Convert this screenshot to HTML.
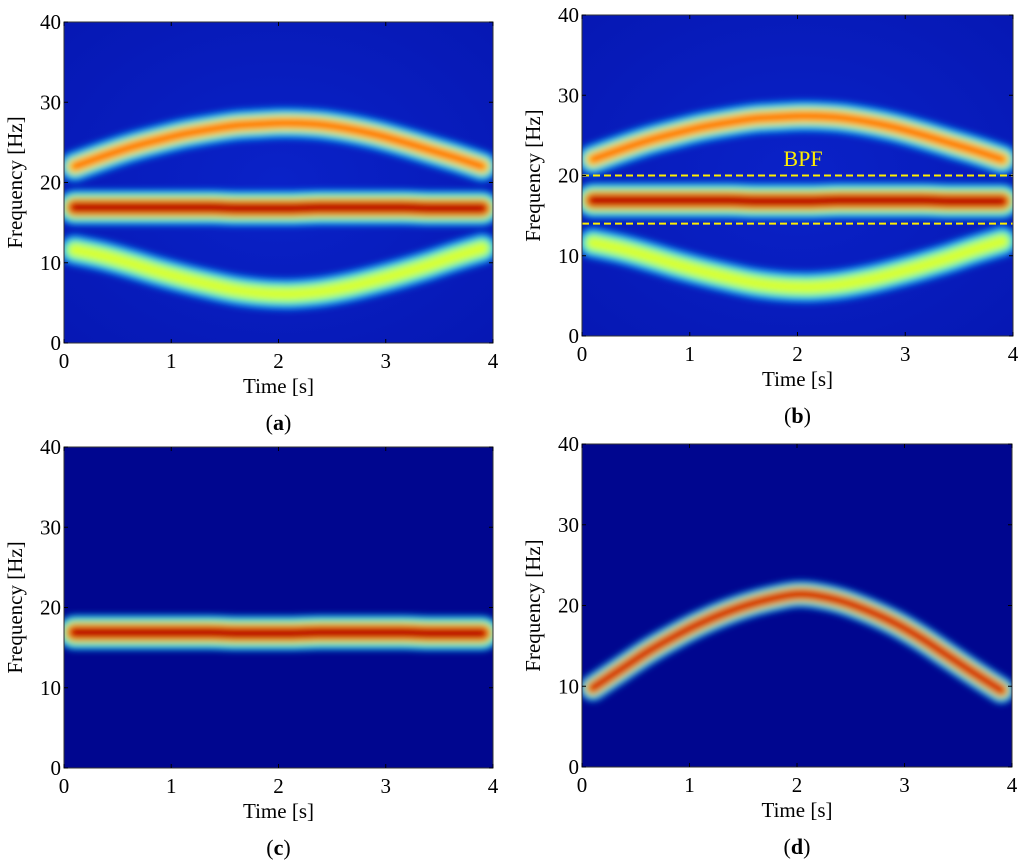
<!DOCTYPE html>
<html><head><meta charset="utf-8"><style>
body{margin:0;background:#fff;}
svg{display:block;}
text{font-family:"Liberation Serif","Times New Roman",serif;}
</style></head><body>
<svg id="fig" width="1024" height="867" viewBox="0 0 1024 867" xmlns="http://www.w3.org/2000/svg">
<defs>
<filter id="blur" filterUnits="userSpaceOnUse" x="0" y="0" width="1024" height="867"><feGaussianBlur stdDeviation="3.5"/></filter>
<radialGradient id="bgA" cx="50%" cy="50%" r="70%"><stop offset="0" stop-color="#0a22c8"/><stop offset="1" stop-color="#0618b4"/></radialGradient>
</defs>
</svg>
<script>
// shared axes data
const xTicks = [0,1,2,3,4];
const yTicks = [0,10,20,30,40];
const times = [0.1,0.35,0.6,0.85,1.1,1.35,1.6,1.85,2.0,2.15,2.4,2.65,2.9,3.15,3.4,3.65,3.9];
// ridge frequencies (Hz) at the times above
const upperRidge = [22,23.2,24.3,25.2,26,26.6,27.1,27.3,27.4,27.4,27.2,26.7,26,25.1,24.1,23.1,22];
const centerRidge = [16.9,16.9,16.9,16.9,16.9,16.9,16.8,16.8,16.8,16.8,16.9,16.9,16.9,16.9,16.8,16.8,16.8];
const lowerRidge = [11.6,10.9,10,9,8.1,7.3,6.6,6.2,6.1,6.1,6.4,7.0,7.8,8.7,9.7,10.8,11.8];
const chirpRidge = [9.8,12,14.2,16.1,17.8,19.2,20.3,21.1,21.4,21.3,20.6,19.4,17.9,16,13.8,11.6,9.5];
const bpfBand = [14,20];

const NS = "http://www.w3.org/2000/svg";
const svg = document.getElementById('fig');
function el(tag, attrs, parent){const e=document.createElementNS(NS,tag);for(const k in attrs)e.setAttribute(k,attrs[k]);(parent||svg).appendChild(e);return e;}
function smoothPath(P){
  let d='M'+P[0][0].toFixed(1)+','+P[0][1].toFixed(1);
  for(let i=0;i<P.length-1;i++){
    const p0=P[Math.max(0,i-1)],p1=P[i],p2=P[i+1],p3=P[Math.min(P.length-1,i+2)];
    const c1=[p1[0]+(p2[0]-p0[0])/6,p1[1]+(p2[1]-p0[1])/6];
    const c2=[p2[0]-(p3[0]-p1[0])/6,p2[1]-(p3[1]-p1[1])/6];
    d+=' C'+c1.map(v=>v.toFixed(1)).join(',')+' '+c2.map(v=>v.toFixed(1)).join(',')+' '+p2[0].toFixed(1)+','+p2[1].toFixed(1);
  }
  return d;
}

const panels = [
 {id:'a', x0:64, x1:493, y0:22, y1:343, bg:'url(#bgA)', ridges:[['upper',upperRidge,'hot'],['center',centerRidge,'max'],['lower',lowerRidge,'warm']], bpf:false},
 {id:'b', x0:582, x1:1013, y0:15, y1:336, bg:'url(#bgA)', ridges:[['upper',upperRidge,'hot'],['center',centerRidge,'max'],['lower',lowerRidge,'warm']], bpf:true},
 {id:'c', x0:64, x1:493, y0:447, y1:768, bg:'#00068f', ridges:[['center',centerRidge,'max']], bpf:false},
 {id:'d', x0:582, x1:1012, y0:444, y1:767, bg:'#00068f', ridges:[['chirp',chirpRidge,'chirp']], bpf:false}
];
const palettes = {
 hot:[[30,'#00b8ff',0.9],[22,'#40f0c0',1],[15,'#ffe000',1],[8,'#ff6000',1]],
 warm:[[30,'#00b8ff',0.9],[20,'#70ff90',1],[12,'#d8ff30',1]],
 max:[[34,'#00c8ff',1],[26,'#70ff80',1],[19,'#ffb000',1],[13,'#e00000',1],[6,'#a80000',1]],
 chirp:[[26,'#00b8ff',1],[19,'#70ff80',1],[14,'#ff9000',1],[8,'#cc0000',1]]
};

panels.forEach(p=>{
  const g = el('g',{});
  
  
  const xs = t => p.x0 + (t/4)*(p.x1-p.x0);
  const ys = f => p.y1 - (f/40)*(p.y1-p.y0);
  const clipId='clip'+p.id;
  const cp=el('clipPath',{id:clipId},g); el('rect',{x:p.x0,y:p.y0,width:p.x1-p.x0,height:p.y1-p.y0},cp);
  const plot=el('g',{'clip-path':'url(#'+clipId+')'},g);
  const bg=el('rect',{x:p.x0,y:p.y0,width:p.x1-p.x0,height:p.y1-p.y0,fill:p.bg},plot);
  
  
  p.ridges.forEach(r=>{
    const d = smoothPath(times.map((t,i)=>[xs(t),ys(r[1][i])]));
    const rg=el('g',{filter:'url(#blur)'},plot);
    
    
    palettes[r[2]].forEach(l=>{
      el('path',{d:d,fill:'none',stroke:l[1],'stroke-width':l[0],'stroke-opacity':l[2],'stroke-linecap':'round','stroke-linejoin':'round'},rg);
    });
  });
  if(p.bpf){
    bpfBand.forEach((f,i)=>{
      const ln=el('line',{x1:p.x0,x2:p.x1,y1:ys(f),y2:ys(f),stroke:'#ffee00','stroke-width':2,'stroke-dasharray':'7,4'},g);
      
      
    });
    const bt=el('text',{x:803,y:ys(21.2),'text-anchor':'middle','font-size':22,fill:'#ffee00'},g);
    bt.textContent='BPF';
    
    
  }
  el('rect',{x:p.x0,y:p.y0,width:p.x1-p.x0,height:p.y1-p.y0,fill:'none',stroke:'#333','stroke-width':1},g);
  xTicks.forEach(t=>{
    el('line',{x1:xs(t),x2:xs(t),y1:p.y1,y2:p.y1-4,stroke:'#000'},g);
    el('line',{x1:xs(t),x2:xs(t),y1:p.y0,y2:p.y0+4,stroke:'#000'},g);
    const tx=el('text',{x:xs(t),y:p.y1+25,'text-anchor':'middle','font-size':21},g);
    tx.textContent=t;
    
    
  });
  yTicks.forEach(f=>{
    el('line',{x1:p.x0,x2:p.x0+4,y1:ys(f),y2:ys(f),stroke:'#000'},g);
    el('line',{x1:p.x1,x2:p.x1-4,y1:ys(f),y2:ys(f),stroke:'#000'},g);
    const ty=el('text',{x:p.x0-3,y:ys(f)+7,'text-anchor':'end','font-size':21},g);
    ty.textContent=f;
    
    
  });
  const xt=el('text',{x:(p.x0+p.x1)/2,y:p.y1+50,'text-anchor':'middle','font-size':21},g);
  xt.textContent='Time [s]';
  
  
  const cy=(p.y0+p.y1)/2;
  const yt=el('text',{x:p.x0-42,y:cy,'text-anchor':'middle','font-size':21,transform:'rotate(-90 '+(p.x0-42)+' '+cy+')'},g);
  yt.textContent='Frequency [Hz]';
  
  
  const cap=el('text',{x:(p.x0+p.x1)/2,y:p.y1+87,'text-anchor':'middle','font-size':22},g);
  cap.innerHTML='(<tspan font-weight="bold">'+p.id+'</tspan>)';
  
  
});
</script>
</body></html>
